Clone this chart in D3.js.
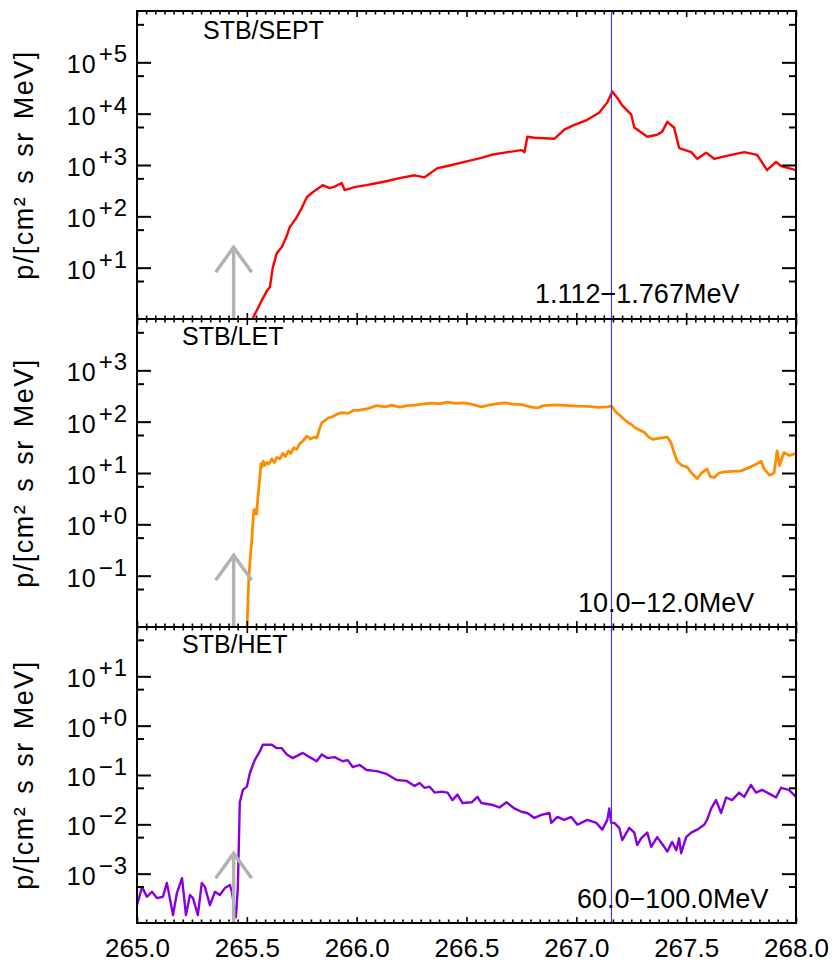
<!DOCTYPE html>
<html lang="en">
<head>
<meta charset="UTF-8" />
<script src="https://d3js.org/d3.v7.min.js"></script>
<title>STB proton fluxes</title>
<style>
  body { margin: 0; background: #fff; }
  svg { display: block; font-family: 'Liberation Sans', Arial, Helvetica, sans-serif; }
  .frame { fill: none; stroke: #000; stroke-width: 2; }
  .tick line { stroke: #000; }
</style>
</head>
<body>
<script>
// time in day of year, fluxes in p/[cm2 s sr MeV]
const sepTime = [265.520, 265.568, 265.591, 265.605, 265.618, 265.636, 265.659, 265.680, 265.695, 265.727,
  265.750, 265.773, 265.800, 265.845, 265.877, 265.900, 265.932, 265.945, 265.990, 266.045,
  266.100, 266.150, 266.195, 266.264, 266.309, 266.368, 266.414, 266.491, 266.568, 266.614,
  266.673, 266.750, 266.764, 266.777, 266.809, 266.900, 266.945, 266.991, 267.050, 267.105,
  267.141, 267.164, 267.186, 267.209, 267.250, 267.264, 267.323, 267.368, 267.391, 267.414,
  267.445, 267.468, 267.523, 267.550, 267.591, 267.627, 267.705, 267.764, 267.823, 267.868,
  267.909, 267.932, 268.000]
const sepFlux = [0.9, 2.3, 3.5, 4.2, 10, 19, 25, 40, 61, 96,
  145, 235, 295, 405, 355, 380, 445, 325, 370, 405,
  450, 500, 555, 630, 575, 870, 955, 1150, 1380, 1580,
  1740, 1950, 1780, 3550, 3390, 3240, 4900, 6030, 7590, 10500,
  16600, 26900, 20400, 14500, 9550, 5370, 3550, 3890, 4470, 6920,
  5370, 2140, 1780, 1320, 1740, 1320, 1580, 1780, 1580, 794,
  1150, 955, 794]

const letTime = [265.500, 265.509, 265.518, 265.523, 265.527, 265.532, 265.536, 265.541, 265.545, 265.550,
  265.555, 265.559, 265.564, 265.568, 265.575, 265.582, 265.591, 265.600, 265.614, 265.625,
  265.636, 265.650, 265.664, 265.675, 265.690, 265.700, 265.714, 265.727, 265.740, 265.755,
  265.773, 265.790, 265.805, 265.818, 265.830, 265.841, 265.855, 265.870, 265.890, 265.910,
  265.936, 265.960, 265.985, 266.014, 266.050, 266.091, 266.130, 266.160, 266.195, 266.230,
  266.264, 266.300, 266.340, 266.380, 266.414, 266.450, 266.490, 266.530, 266.568, 266.600,
  266.640, 266.673, 266.710, 266.750, 266.790, 266.823, 266.850, 266.900, 266.950, 267.000,
  267.050, 267.100, 267.140, 267.160, 267.180, 267.205, 267.230, 267.250, 267.270, 267.290,
  267.309, 267.330, 267.350, 267.380, 267.414, 267.430, 267.445, 267.459, 267.480, 267.505,
  267.525, 267.550, 267.570, 267.595, 267.610, 267.627, 267.650, 267.673, 267.710, 267.750,
  267.790, 267.820, 267.841, 267.855, 267.880, 267.900, 267.914, 267.925, 267.945, 267.970,
  268.000]
const letFlux = [0.008, 0.09, 0.3, 0.5, 1.0, 1.9, 1.6, 2.0, 1.6, 3.3,
  5.5, 8.1, 15, 13, 17, 14, 16, 15, 19, 16,
  20, 19, 24, 21, 27, 24, 31, 29, 37, 42,
  52, 46, 50, 48, 70, 95, 105, 118, 125, 140,
  150, 145, 165, 168, 180, 205, 195, 210, 192, 205,
  210, 220, 230, 225, 240, 228, 232, 215, 195, 210,
  225, 232, 220, 215, 195, 185, 205, 212, 208, 200,
  198, 190, 195, 200, 155, 125, 100, 88, 75, 68,
  62, 50, 45, 48, 50, 40, 25, 17, 14, 13,
  10, 7.8, 10, 12, 8.5, 8.2, 10, 10.5, 10.8, 11,
  13, 15, 17, 12, 9, 10, 27, 14, 25, 22,
  24]

const hetTime = [265.000, 265.023, 265.045, 265.068, 265.091, 265.118, 265.136, 265.164, 265.182, 265.205,
  265.223, 265.241, 265.255, 265.277, 265.295, 265.309, 265.332, 265.355, 265.377, 265.400,
  265.423, 265.432, 265.450, 265.459, 265.468, 265.482, 265.500, 265.514, 265.536, 265.559,
  265.573, 265.614, 265.636, 265.659, 265.682, 265.709, 265.755, 265.786, 265.818, 265.841,
  265.868, 265.900, 265.936, 265.959, 265.982, 266.014, 266.045, 266.091, 266.136, 266.182,
  266.227, 266.264, 266.286, 266.309, 266.332, 266.355, 266.386, 266.414, 266.436, 266.459,
  266.482, 266.523, 266.550, 266.568, 266.614, 266.650, 266.682, 266.718, 266.750, 266.777,
  266.809, 266.841, 266.877, 266.886, 266.914, 266.945, 266.977, 267.005, 267.050, 267.091,
  267.118, 267.141, 267.150, 267.159, 267.173, 267.195, 267.209, 267.241, 267.264, 267.277,
  267.295, 267.323, 267.341, 267.368, 267.400, 267.414, 267.436, 267.455, 267.468, 267.477,
  267.500, 267.523, 267.550, 267.582, 267.595, 267.614, 267.636, 267.659, 267.682, 267.709,
  267.741, 267.764, 267.795, 267.818, 267.845, 267.886, 267.909, 267.932, 267.968, 268.000]
const hetFlux = [2.3e-4, 5.4e-4, 3.4e-4, 4.3e-4, 3.2e-4, 3.4e-4, 6.5e-4, 1.45e-4, 4.1e-4, 8.1e-4,
  1.45e-4, 3.7e-4, 3.2e-4, 1.45e-4, 6.5e-4, 5.4e-4, 2.3e-4, 4.3e-4, 3.7e-4, 5.1e-4,
  5.9e-4, 4.3e-4, 1.3e-4, 5.1e-4, 0.028, 0.050, 0.058, 0.11, 0.20, 0.30,
  0.41, 0.41, 0.35, 0.35, 0.26, 0.22, 0.28, 0.23, 0.19, 0.26,
  0.22, 0.23, 0.19, 0.20, 0.145, 0.16, 0.126, 0.12, 0.105, 0.079,
  0.076, 0.060, 0.069, 0.055, 0.058, 0.044, 0.046, 0.044, 0.031, 0.040,
  0.027, 0.028, 0.036, 0.027, 0.025, 0.022, 0.028, 0.021, 0.018, 0.017,
  0.0135, 0.0155, 0.017, 0.0107, 0.0141, 0.0123, 0.0141, 0.0098, 0.0123, 0.0107,
  0.0078, 0.0123, 0.021, 0.0107, 0.0107, 0.0085, 0.0048, 0.0085, 0.0068, 0.0038,
  0.0052, 0.0068, 0.0035, 0.0055, 0.0035, 0.0028, 0.0044, 0.0030, 0.0052, 0.0026,
  0.0055, 0.0068, 0.0078, 0.0098, 0.0123, 0.021, 0.031, 0.017, 0.035, 0.031,
  0.044, 0.036, 0.063, 0.044, 0.050, 0.040, 0.035, 0.055, 0.050, 0.036]

const panelNames = ['STB/SEPT', 'STB/LET', 'STB/HET']
const energyLabels = ['1.112\u22121.767MeV', '10.0\u221212.0MeV', '60.0\u2212100.0MeV']
const yDomains = [[1, 1e6], [1e-2, 1e4], [1e-4, 1e2]]
const yTickExps = [[1, 2, 3, 4, 5], [-1, 0, 1, 2, 3], [-3, -2, -1, 0, 1]]
const xTicks = [265.0, 265.5, 266.0, 266.5, 267.0, 267.5, 268.0]
const shockTime = 267.16
const onsetTime = 265.44
const arrowTip = [25, 0.25, 0.0026]

const colors = ['#ff0000', '#ff8c00', '#8800dd']

const width = 835
const height = 966
const left = 137
const right = 796
const panelTop = [11, 319, 627]
const panelBottom = [319, 627, 923]
const titlePos = [[203, 28], [182, 26], [182, 26]]
const energyPos = [[535, 16], [578, 15], [577, 15]]

const svg = d3.select('body')
  .append('svg')
  .attr('width', width)
  .attr('height', height)

const x = d3.scaleLinear().domain([265, 268]).range([left, right])

const series = [d3.zip(sepTime, sepFlux), d3.zip(letTime, letFlux), d3.zip(hetTime, hetFlux)]

const xMinor = d3.range(0, 73).map(i => 265 + i / 24).filter((d, i) => i % 12 !== 0)

function supLabel (e) {
  return (e < 0 ? '\u2212' : '+') + Math.abs(e)
}

panelNames.forEach(function (name, i) {
  const top = panelTop[i]
  const bottom = panelBottom[i]
  const y = d3.scaleLog().domain(yDomains[i]).range([bottom, top])
  const g = svg.append('g')

  g.append('clipPath')
    .attr('id', 'clip' + i)
    .append('rect')
    .attr('x', left)
    .attr('y', top)
    .attr('width', right - left)
    .attr('height', bottom - top)

  // data line
  g.append('path')
    .datum(series[i])
    .attr('clip-path', 'url(#clip' + i + ')')
    .attr('fill', 'none')
    .attr('stroke', colors[i])
    .attr('stroke-width', i === 1 ? 2.8 : 2.4)
    .attr('stroke-linejoin', 'round')
    .attr('d', d3.line().x(d => x(d[0])).y(d => y(d[1])))

  // onset arrow
  const ax = x(onsetTime)
  const ay = y(arrowTip[i])
  g.append('path')
    .attr('fill', 'none')
    .attr('stroke', '#b3b3b3')
    .attr('stroke-width', 3.5)
    .attr('d', 'M' + ax + ',' + bottom + 'L' + ax + ',' + ay +
      'M' + (ax - 18) + ',' + (ay + 25) + 'L' + ax + ',' + ay + 'L' + (ax + 18) + ',' + (ay + 25))

  // shock time
  g.append('line')
    .attr('x1', x(shockTime))
    .attr('x2', x(shockTime))
    .attr('y1', top)
    .attr('y2', bottom)
    .attr('stroke', '#3b3bff')
    .attr('stroke-width', 1.2)

  // ticks on all four sides, pointing inward
  const majorY = yTickExps[i].map(e => Math.pow(10, e))
  const minorY = d3.range(Math.log10(yDomains[i][0]), Math.log10(yDomains[i][1])).map(k => 5.5 * Math.pow(10, k))

  const tickSets = [
    [d3.axisRight(y).tickValues(majorY).tickSize(14), left, 0],
    [d3.axisRight(y).tickValues(minorY).tickSize(7), left, 0],
    [d3.axisLeft(y).tickValues(majorY).tickSize(14), right, 0],
    [d3.axisLeft(y).tickValues(minorY).tickSize(7), right, 0],
    [d3.axisTop(x).tickValues(xTicks).tickSize(6), 0, bottom],
    [d3.axisTop(x).tickValues(xMinor).tickSize(3.5), 0, bottom],
    [d3.axisBottom(x).tickValues(xTicks).tickSize(6), 0, top],
    [d3.axisBottom(x).tickValues(xMinor).tickSize(3.5), 0, top]
  ]
  tickSets.forEach(function (s, j) {
    const a = g.append('g')
      .attr('transform', 'translate(' + s[1] + ',' + s[2] + ')')
      .call(s[0].tickFormat(''))
    a.select('.domain').remove()
    a.selectAll('line').attr('stroke-width', j < 4 ? 2 : 1.6)
  })

  g.append('rect')
    .attr('class', 'frame')
    .attr('x', left)
    .attr('y', top)
    .attr('width', right - left)
    .attr('height', bottom - top)

  // y tick labels 10^n
  const lab = g.append('g')
    .selectAll('text')
    .data(yTickExps[i])
    .join('text')
    .attr('x', left - 9)
    .attr('y', d => y(Math.pow(10, d)) + 11)
    .attr('text-anchor', 'end')
    .attr('font-size', 25)
    .attr('letter-spacing', 1)
  lab.append('tspan').text('10')
  lab.append('tspan')
    .attr('dx', 2)
    .attr('dy', -11)
    .attr('font-size', 24)
    .text(d => supLabel(d))

  // y axis title
  g.append('text')
    .attr('transform', 'translate(33,' + (top + bottom) / 2 + ') rotate(-90)')
    .attr('text-anchor', 'middle')
    .attr('font-size', 27)
    .attr('letter-spacing', 1.5)
    .attr('word-spacing', 3)
    .text('p/[cm\u00b2 s sr MeV]')

  g.append('text')
    .attr('x', titlePos[i][0])
    .attr('y', top + titlePos[i][1])
    .attr('font-size', 25)
    .text(name)

  g.append('text')
    .attr('x', energyPos[i][0])
    .attr('y', bottom - energyPos[i][1])
    .attr('font-size', 27)
    .text(energyLabels[i])

  if (i === 2) {
    const xa = g.append('g')
      .attr('transform', 'translate(0,' + bottom + ')')
      .call(d3.axisBottom(x).tickValues(xTicks).tickSize(0).tickPadding(16).tickFormat(d3.format('.1f')))
    xa.select('.domain').remove()
    xa.selectAll('text')
      .attr('font-size', 26)
      .attr('font-family', "'Liberation Sans', Arial, Helvetica, sans-serif")
      .attr('fill', '#000')
  }
})
</script>
</body>
</html>
